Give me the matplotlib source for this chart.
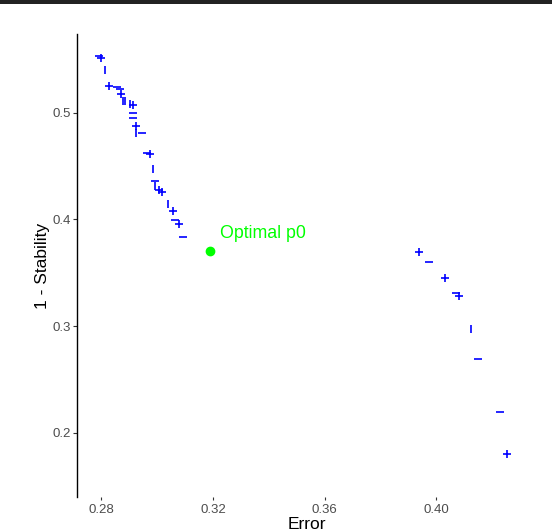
import numpy as np
import matplotlib
matplotlib.use("Agg")
import matplotlib.pyplot as plt
from matplotlib.patches import Rectangle

# Pareto points (error vs 1 - stability)
err = [0.2792, 0.2798, 0.2814, 0.2829, 0.2855, 0.2866, 0.2872, 0.2879, 0.2886,
       0.2902, 0.2912, 0.2914, 0.2915, 0.2923, 0.2925, 0.2947, 0.2963, 0.2974,
       0.2986, 0.2993, 0.2992, 0.3006, 0.3016, 0.3040, 0.3057, 0.3064, 0.3077,
       0.3094,
       0.3939, 0.3974, 0.4031, 0.4070, 0.4082, 0.4122, 0.4148, 0.4226, 0.4251]
instab = [0.5534, 0.5516, 0.5400, 0.5253, 0.5244, 0.5219, 0.5178, 0.5110, 0.5110,
          0.5084, 0.5075, 0.5000, 0.4950, 0.4873, 0.4807, 0.4807, 0.4619, 0.4610,
          0.4472, 0.4357, 0.4316, 0.4275, 0.4254, 0.4144, 0.4078, 0.3994, 0.3959,
          0.3832,
          0.3691, 0.3598, 0.3453, 0.3313, 0.3284, 0.2972, 0.2691, 0.2191, 0.1803]
shapes = ["_", "+", "|", "+", "_", "_", "+", "|", "|",
          "|", "+", "_", "_", "+", "|", "_", "_", "+",
          "|", "_", "|", "+", "+", "|", "+", "_", "+",
          "_",
          "+", "_", "+", "_", "+", "|", "_", "_", "+"]

opt_err = 0.3189
opt_instab = 0.3706
opt_label = "Optimal p0"

x_ticks = [0.28, 0.32, 0.36, 0.40]
y_ticks = [0.2, 0.3, 0.4, 0.5]

plt.rcParams["font.family"] = ["Liberation Sans", "DejaVu Sans"]

fig = plt.figure(figsize=(5.52, 5.32), dpi=100)
ax = fig.add_axes([77 / 552, 35 / 532, 460 / 552, 463 / 532])

for x, y, m in zip(err, instab, shapes):
    ax.plot(x, y, marker=m, color="#0000FF", markersize=6, markeredgewidth=1.2,
            linestyle="none")

ax.plot(opt_err, opt_instab, marker="o", color="#00FF00", markersize=6,
        linestyle="none")
ax.annotate(opt_label, (opt_err, opt_instab), xytext=(7, 9),
            textcoords="offset points", ha="left", va="baseline",
            color="#00FF00", fontsize=12.8)

ax.set_xlim(0.2713, 0.4360)
ax.set_ylim(0.13972, 0.57378)
ax.set_xticks(x_ticks)
ax.set_xticklabels(["%.2f" % v for v in x_ticks])
ax.set_yticks(y_ticks)
ax.set_yticklabels(["%.1f" % v for v in y_ticks])

for s in ["top", "right", "bottom"]:
    ax.spines[s].set_visible(False)
ax.spines["left"].set_linewidth(1.0)
ax.spines["left"].set_color("black")

ax.tick_params(axis="x", length=2, width=0.8, colors="#333333",
               labelcolor="#4D4D4D", labelsize=9.5, pad=3)
ax.tick_params(axis="y", length=3, width=0.8, colors="#333333",
               labelcolor="#4D4D4D", labelsize=9.5, pad=1.5)

ax.set_xlabel("Error", fontsize=12.5, labelpad=0.5)
ax.set_ylabel("1 - Stability", fontsize=12.5, labelpad=2)

# dark band along the top edge
fig.add_artist(Rectangle((0, 1 - 3.5 / 532), 1, 3.5 / 532,
                         transform=fig.transFigure, color="#222222", lw=0))

fig.savefig("out.png", dpi=100)
